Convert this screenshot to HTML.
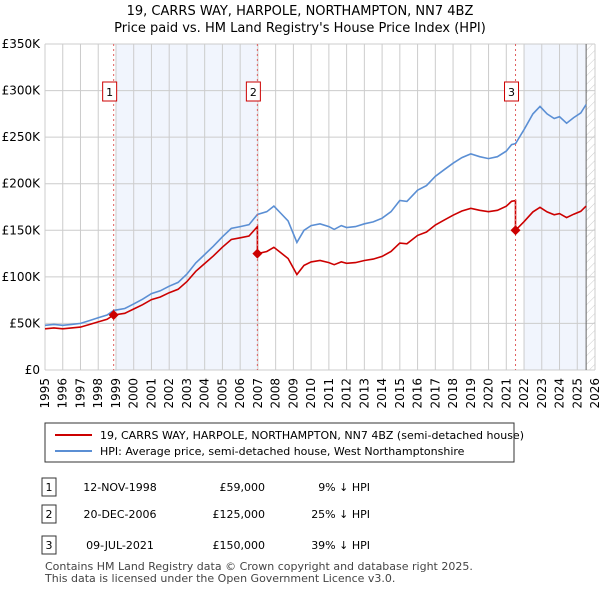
<!DOCTYPE html>
<html><head><meta charset="utf-8"><style>
body{margin:0;background:#fff;font-family:"Liberation Sans","DejaVu Sans",sans-serif;}
#wrap{position:relative;width:600px;height:590px;overflow:hidden;}
svg text{font-family:"DejaVu Sans","Liberation Sans",sans-serif;}
</style></head><body>
<div id="wrap">
<svg id="chart" width="600" height="590">
<defs><pattern id="hatch" width="6" height="6" patternUnits="userSpaceOnUse" patternTransform="rotate(45)"><line x1="0" y1="0" x2="0" y2="6" stroke="#ccc" stroke-width="1"/></pattern></defs>
<text x="300" y="15" text-anchor="middle" font-size="13">19, CARRS WAY, HARPOLE, NORTHAMPTON, NN7 4BZ</text>
<text x="300" y="32" text-anchor="middle" font-size="13">Price paid vs. HM Land Registry's House Price Index (HPI)</text>
<g id="plot"></g>
<rect x="45" y="423" width="469" height="39" fill="#fff" stroke="#333"/>
<line x1="55" y1="435" x2="92" y2="435" stroke="#cc0000" stroke-width="2"/>
<text x="100" y="439" font-size="11">19, CARRS WAY, HARPOLE, NORTHAMPTON, NN7 4BZ (semi-detached house)</text>
<line x1="55" y1="451" x2="92" y2="451" stroke="#5b8fd4" stroke-width="2"/>
<text x="100" y="455" font-size="11">HPI: Average price, semi-detached house, West Northamptonshire</text>
<g id="table" font-size="11"></g>
<text x="45" y="570" font-size="11" fill="#444">Contains HM Land Registry data © Crown copyright and database right 2025.</text>
<text x="45" y="582" font-size="11" fill="#444">This data is licensed under the Open Government Licence v3.0.</text>
</svg>
</div>
<script>
const yearTicks=[1995,1996,1997,1998,1999,2000,2001,2002,2003,2004,2005,2006,2007,2008,2009,2010,2011,2012,2013,2014,2015,2016,2017,2018,2019,2020,2021,2022,2023,2024,2025,2026];
const priceTicks=[0,50,100,150,200,250,300,350];
const priceTickLabels=["£0","£50K","£100K","£150K","£200K","£250K","£300K","£350K"];
const hpiDates=[1995,1995.5,1996,1996.5,1997,1997.5,1998,1998.5,1998.87,1999.5,2000,2000.5,2001,2001.5,2002,2002.5,2003,2003.5,2004,2004.5,2005,2005.5,2006,2006.5,2006.97,2007.5,2007.9,2008.3,2008.7,2009.2,2009.6,2010,2010.5,2011,2011.3,2011.7,2012,2012.5,2013,2013.5,2014,2014.5,2015,2015.4,2016,2016.5,2017,2017.5,2018,2018.5,2019,2019.5,2020,2020.5,2021,2021.3,2021.52,2022,2022.5,2022.9,2023.3,2023.7,2024,2024.4,2024.8,2025.2,2025.5];
const hpiValues=[48,49,48,49,50,53,56,59,64,66,71,76,82,85,90,94,103,115,124,133,143,152,154,156,167,170,176,168,160,137,150,155,157,154,151,155,153,154,157,159,163,170,182,181,193,198,208,215,222,228,232,229,227,229,235,242,243,258,275,283,275,270,272,265,271,276,285];
const saleDates=[1998.87,2006.97,2021.52];
const salePrices=[59,125,150];
const saleLabels=["1","2","3"];
const saleDateText=["12-NOV-1998","20-DEC-2006","09-JUL-2021"];
const salePriceText=["£59,000","£125,000","£150,000"];
const saleHpiText=["9% ↓ HPI","25% ↓ HPI","39% ↓ HPI"];

const NS="http://www.w3.org/2000/svg";
const X0=45,X1=595,Y0=370,Y1=44;
const xs=t=>X0+(t-1995)/(2026-1995)*(X1-X0);
const ys=v=>Y0-v/350*(Y0-Y1);
const g=document.getElementById('plot');
function mk(tag,attrs,parent){const e=document.createElementNS(NS,tag);for(const k in attrs)e.setAttribute(k,attrs[k]);(parent||g).appendChild(e);return e;}
function hpiAt(t){for(let i=0;i<hpiDates.length-1;i++){if(t>=hpiDates[i]&&t<=hpiDates[i+1]){const f=(t-hpiDates[i])/(hpiDates[i+1]-hpiDates[i]);return hpiValues[i]+f*(hpiValues[i+1]-hpiValues[i]);}}return hpiValues[hpiValues.length-1];}

let e=mk('rect',{x:X0,y:Y1,width:X1-X0,height:Y0-Y1,fill:'#fff'});


e=mk('rect',{x:xs(saleDates[0])+2,y:Y1,width:xs(saleDates[1])-xs(saleDates[0])-2,height:Y0-Y1,fill:'#eef3fc',opacity:0.8});


e=mk('rect',{x:xs(saleDates[2])+8,y:Y1,width:xs(2025.5)-xs(saleDates[2])-8,height:Y0-Y1,fill:'#eef3fc',opacity:0.8});


e=mk('rect',{x:xs(2025.5),y:Y1,width:X1-xs(2025.5),height:Y0-Y1,fill:'url(#hatch)'});


yearTicks.forEach(y=>{
 e=mk('line',{x1:xs(y),x2:xs(y),y1:Y1,y2:Y0,stroke:'#ccc'});
 
 
 e=mk('text',{x:0,y:0,'font-size':12,'text-anchor':'end',transform:`translate(${xs(y)+4},${Y0+8}) rotate(-90)`});
 e.textContent=y;
 
 
});
priceTicks.forEach((p,i)=>{
 e=mk('line',{x1:X0,x2:X1,y1:ys(p),y2:ys(p),stroke:'#ccc'});
 
 
 e=mk('text',{x:X0-5,y:ys(p)+4,'font-size':12,'text-anchor':'end'});
 e.textContent=priceTickLabels[i];
 
 
});
e=mk('line',{x1:xs(2025.5),x2:xs(2025.5),y1:Y1,y2:Y0,stroke:'#666'});


// HPI line
let d=hpiDates.map((t,i)=>(i?'L':'M')+xs(t).toFixed(1)+','+ys(hpiValues[i]).toFixed(1)).join('');
e=mk('path',{d:d,fill:'none',stroke:'#5b8fd4','stroke-width':1.6});


// price paid line (HPI-indexed from each sale)
let pts=[];
function ratioFor(t){let k=0;for(let i=0;i<saleDates.length;i++)if(t>=saleDates[i])k=i;return salePrices[k]/hpiAt(saleDates[k]);}
hpiDates.forEach((t,i)=>{
 saleDates.forEach((s,j)=>{if(i>0&&hpiDates[i-1]<s&&t>=s){const prev=j===0?salePrices[0]/hpiAt(s):salePrices[j-1]/hpiAt(saleDates[j-1]);pts.push([s,hpiAt(s)*prev]);pts.push([s,salePrices[j]]);}});
 pts.push([t,hpiValues[i]*ratioFor(t)]);
});
d=pts.map((p,i)=>(i?'L':'M')+xs(p[0]).toFixed(1)+','+ys(p[1]).toFixed(1)).join('');
e=mk('path',{d:d,fill:'none',stroke:'#cc0000','stroke-width':1.6});


saleDates.forEach((s,i)=>{
 const x=xs(s);
 e=mk('line',{x1:x,x2:x,y1:Y1,y2:Y0,stroke:'#e06060','stroke-dasharray':'2,3'});
 
 
 const y=ys(salePrices[i]);
 e=mk('path',{d:`M${x},${y-5}L${x+5},${y}L${x},${y+5}L${x-5},${y}Z`,fill:'#cc0000'});
 
 
 e=mk('rect',{x:x-11,y:82,width:14,height:19,fill:'#fff',stroke:'#cc0000'});
 
 
 e=mk('text',{x:x-4,y:96,'font-size':11,'text-anchor':'middle'});
 e.textContent=saleLabels[i];
 
 
});
const tb=document.getElementById('table');
const rowY=[487,514,545];
saleLabels.forEach((l,i)=>{
 const y=rowY[i];
 e=mk('rect',{x:42,y:y-9,width:14,height:18,fill:'#fff',stroke:'#333'},tb);
 
 
 const cells=[[49,l,'middle'],[120,saleDateText[i],'middle'],[265,salePriceText[i],'end'],[370,saleHpiText[i],'end']];
 cells.forEach(c=>{
  e=mk('text',{x:c[0],y:y+4,'text-anchor':c[2]},tb);
  e.textContent=c[1];
  
  
 });
});
</script>
</body></html>
